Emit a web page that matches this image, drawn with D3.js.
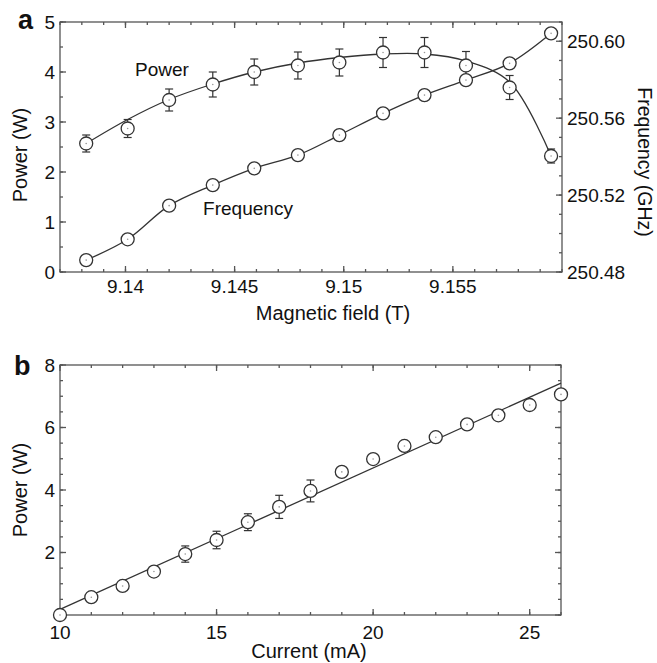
<!DOCTYPE html>
<html>
<head>
<meta charset="utf-8">
<script src="https://cdn.jsdelivr.net/npm/d3@7"></script>
<style>
  body { margin: 0; background: #fff; }
  svg text { font-family: "Liberation Sans", Arial, sans-serif; fill: #111; }
</style>
</head>
<body>
<div class="container"></div>
<script>
// Panel a: magnetic field sweep
const field = [9.1382, 9.1401, 9.1420, 9.1440, 9.1459, 9.1479, 9.1498, 9.1518, 9.1537, 9.1556, 9.1576, 9.1595];
const power = [2.57, 2.87, 3.44, 3.75, 4.00, 4.13, 4.19, 4.39, 4.39, 4.13, 3.69, 2.32];
const powerErr = [0.17, 0.18, 0.22, 0.25, 0.26, 0.27, 0.27, 0.30, 0.30, 0.28, 0.24, 0.14];
// smoothed curve through the power data
const powerFit = [2.57, 3.05, 3.45, 3.76, 4.00, 4.18, 4.29, 4.36, 4.36, 4.22, 3.80, 2.32];
const freq = [250.4862, 250.4970, 250.5145, 250.5252, 250.5339, 250.5408, 250.5512, 250.5625, 250.5720, 250.5798, 250.5885, 250.6041];
const fieldTicks = [9.14, 9.145, 9.15, 9.155];
const powerTicksA = [0, 1, 2, 3, 4, 5];
const freqTicks = [250.48, 250.52, 250.56, 250.60];

// Panel b: current sweep
const current = [10, 11, 12, 13, 14, 15, 16, 17, 18, 19, 20, 21, 22, 23, 24, 25, 26];
const powerB = [0.0, 0.57, 0.93, 1.39, 1.95, 2.40, 2.97, 3.46, 3.97, 4.58, 4.99, 5.41, 5.69, 6.10, 6.39, 6.72, 7.06];
const powerBErr = [null, null, 0.12, null, 0.26, 0.28, 0.27, 0.37, 0.35, null, null, null, null, null, null, null, null];
const fitCurrent = [10, 26];
const fitPowerB = [0.18, 7.42];
const currentTicks = [10, 15, 20, 25];
const powerTicksB = [0, 2, 4, 6, 8];

const width = 657;
const height = 663;
const axisColor = '#555';
const inkColor = '#333';
const r = 6.5;

const svg = d3.select('.container')
  .append('svg')
  .attr('width', width)
  .attr('height', height);

function range(a, b, step) {
  const out = [];
  const n = Math.round((b - a) / step);
  for (let i = 0; i <= n; i++) out.push(+(a + i * step).toFixed(6));
  return out;
}

// draw ticks pointing inward on one side of a frame
function ticks(g, scale, values, side, len, box) {
  values.forEach(v => {
    const p = scale(v);
    if (side === 'bottom') g.append('line').attr('x1', p).attr('x2', p).attr('y1', box.y1).attr('y2', box.y1 - len);
    if (side === 'top') g.append('line').attr('x1', p).attr('x2', p).attr('y1', box.y0).attr('y2', box.y0 + len);
    if (side === 'left') g.append('line').attr('y1', p).attr('y2', p).attr('x1', box.x0).attr('x2', box.x0 + len);
    if (side === 'right') g.append('line').attr('y1', p).attr('y2', p).attr('x1', box.x1).attr('x2', box.x1 - len);
  });
}

function frame(box) {
  const g = svg.append('g')
    .attr('stroke', axisColor)
    .attr('stroke-width', 1.3)
    .attr('fill', 'none');
  g.append('rect')
    .attr('x', box.x0).attr('y', box.y0)
    .attr('width', box.x1 - box.x0).attr('height', box.y1 - box.y0);
  return g;
}

function markers(xs, ys, errs, x, y) {
  const g = svg.append('g');
  xs.forEach((xv, i) => {
    const cx = x(xv), cy = y(ys[i]);
    const e = errs ? errs[i] : null;
    if (e) {
      const t = y(ys[i] + e), b = y(ys[i] - e);
      g.append('line').attr('x1', cx).attr('x2', cx).attr('y1', t).attr('y2', b)
        .attr('stroke', inkColor).attr('stroke-width', 1.2);
      [t, b].forEach(yy => g.append('line')
        .attr('x1', cx - 4).attr('x2', cx + 4).attr('y1', yy).attr('y2', yy)
        .attr('stroke', inkColor).attr('stroke-width', 1.2));
    }
    g.append('circle').attr('cx', cx).attr('cy', cy).attr('r', r)
      .attr('fill', '#fff').attr('stroke', inkColor).attr('stroke-width', 1.3);
    g.append('circle').attr('cx', cx).attr('cy', cy).attr('r', 0.8).attr('fill', '#999');
  });
}

// ---------- panel a ----------
const boxA = { x0: 60, x1: 562, y0: 22, y1: 272 };
const xA = d3.scaleLinear().domain([9.137, 9.16]).range([boxA.x0, boxA.x1]);
const yA = d3.scaleLinear().domain([0, 5]).range([boxA.y1, boxA.y0]);
const yF = d3.scaleLinear().domain([250.48, 250.61]).range([boxA.y1, boxA.y0]);

const fa = frame(boxA);
const minorField = range(9.137, 9.16, 0.001);
ticks(fa, xA, minorField, 'bottom', 3, boxA);
ticks(fa, xA, minorField, 'top', 3, boxA);
ticks(fa, xA, fieldTicks, 'bottom', 6, boxA);
ticks(fa, xA, fieldTicks, 'top', 6, boxA);
ticks(fa, yA, range(0, 5, 0.5), 'left', 3, boxA);
ticks(fa, yA, powerTicksA, 'left', 6, boxA);
ticks(fa, yF, range(250.48, 250.61, 0.01), 'right', 3, boxA);
ticks(fa, yF, freqTicks, 'right', 6, boxA);

const lineA = d3.line().curve(d3.curveCatmullRom.alpha(0.5));
svg.append('path')
  .attr('d', lineA(field.map((f, i) => [xA(f), yA(powerFit[i])])))
  .attr('fill', 'none').attr('stroke', inkColor).attr('stroke-width', 1.3);
svg.append('path')
  .attr('d', lineA(field.map((f, i) => [xA(f), yF(freq[i])])))
  .attr('fill', 'none').attr('stroke', inkColor).attr('stroke-width', 1.3);

markers(field, power, powerErr, xA, yA);
markers(field, freq, null, xA, yF);

const labA = svg.append('g').attr('font-size', 19);
fieldTicks.forEach(v => labA.append('text')
  .attr('x', xA(v)).attr('y', 293).attr('text-anchor', 'middle').text(d3.format('')(v)));
powerTicksA.forEach(v => labA.append('text')
  .attr('x', 55).attr('y', yA(v)).attr('dy', '0.35em').attr('text-anchor', 'end').text(v));
freqTicks.forEach(v => labA.append('text')
  .attr('x', 567).attr('y', yF(v)).attr('dy', '0.35em').text(v.toFixed(2)));
labA.append('text').attr('x', 162).attr('y', 76).attr('text-anchor', 'middle').text('Power');
labA.append('text').attr('x', 248).attr('y', 215).attr('text-anchor', 'middle').text('Frequency');

svg.append('text').attr('x', 333).attr('y', 320).attr('text-anchor', 'middle')
  .attr('font-size', 20).text('Magnetic field (T)');
svg.append('text').attr('transform', 'translate(27,155) rotate(-90)').attr('text-anchor', 'middle')
  .attr('font-size', 20).text('Power (W)');
svg.append('text').attr('transform', 'translate(638,162) rotate(90)').attr('text-anchor', 'middle')
  .attr('font-size', 19.5).text('Frequency (GHz)');
svg.append('text').attr('x', 18).attr('y', 29).attr('font-size', 27).attr('font-weight', 'bold').text('a');

// ---------- panel b ----------
const boxB = { x0: 60, x1: 561, y0: 365, y1: 615 };
const xB = d3.scaleLinear().domain([10, 26]).range([boxB.x0, boxB.x1]);
const yB = d3.scaleLinear().domain([0, 8]).range([boxB.y1, boxB.y0]);

const fb = frame(boxB);
ticks(fb, xB, range(10, 26, 1), 'bottom', 3, boxB);
ticks(fb, xB, range(10, 26, 1), 'top', 3, boxB);
ticks(fb, xB, currentTicks, 'bottom', 6, boxB);
ticks(fb, xB, currentTicks, 'top', 6, boxB);
ticks(fb, yB, range(0, 8, 0.5), 'left', 3, boxB);
ticks(fb, yB, range(0, 8, 0.5), 'right', 3, boxB);
ticks(fb, yB, powerTicksB, 'left', 6, boxB);
ticks(fb, yB, powerTicksB, 'right', 6, boxB);

svg.append('path')
  .attr('d', d3.line()(fitCurrent.map((c, i) => [xB(c), yB(fitPowerB[i])])))
  .attr('fill', 'none').attr('stroke', inkColor).attr('stroke-width', 1.3);

markers(current, powerB, powerBErr, xB, yB);

const labB = svg.append('g').attr('font-size', 19);
currentTicks.forEach(v => labB.append('text')
  .attr('x', xB(v)).attr('y', 639).attr('text-anchor', 'middle').text(v));
powerTicksB.filter(v => v > 0).forEach(v => labB.append('text')
  .attr('x', 55).attr('y', yB(v)).attr('dy', '0.35em').attr('text-anchor', 'end').text(v));

svg.append('text').attr('x', 309).attr('y', 658).attr('text-anchor', 'middle')
  .attr('font-size', 20).text('Current (mA)');
svg.append('text').attr('transform', 'translate(27,490) rotate(-90)').attr('text-anchor', 'middle')
  .attr('font-size', 20).text('Power (W)');
svg.append('text').attr('x', 14).attr('y', 375).attr('font-size', 27).attr('font-weight', 'bold').text('b');
</script>
</body>
</html>
